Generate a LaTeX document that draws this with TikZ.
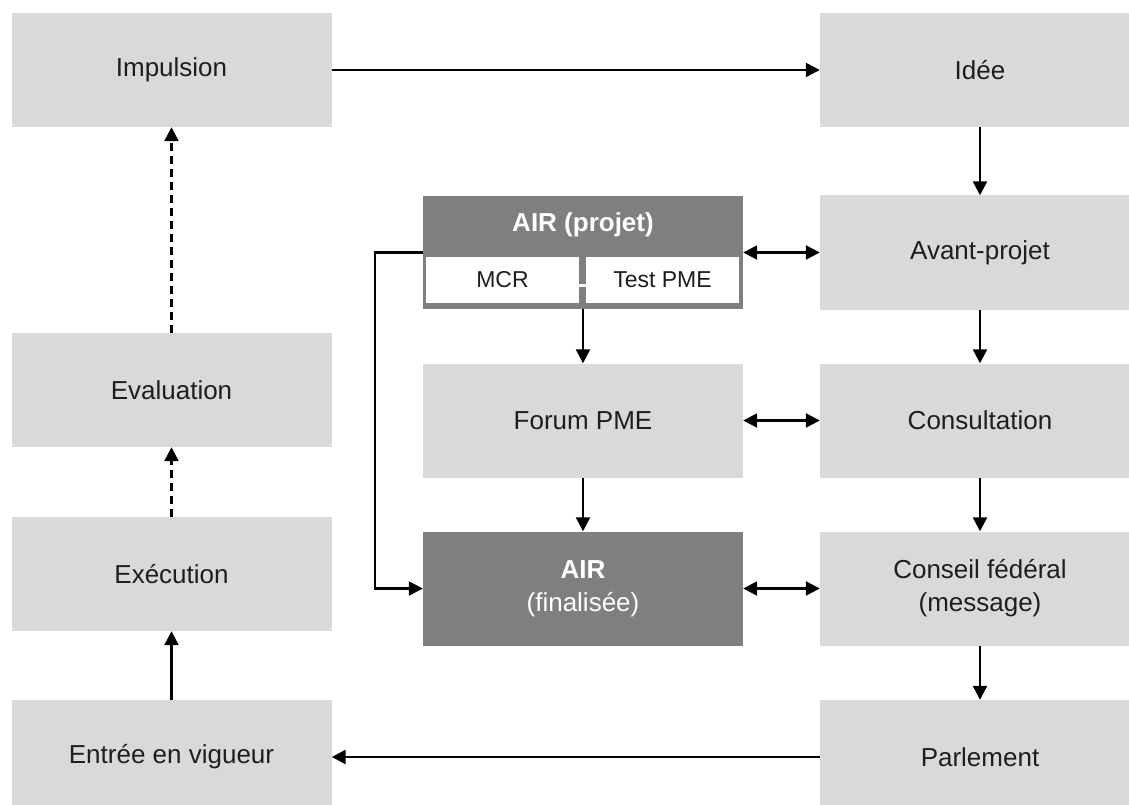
\documentclass[tikz,border=0pt]{standalone}
\usepackage{fontspec}
\setmainfont{Liberation Sans}
\usetikzlibrary{arrows.meta}
\definecolor{boxlight}{HTML}{D9D9D9}
\definecolor{boxdark}{HTML}{7F7F7F}
\definecolor{txt}{HTML}{1E1E1E}
\begin{document}
\begin{tikzpicture}[x=1pt,y=-1pt,
  box/.style={fill=boxlight, minimum width=320pt, minimum height=114pt, inner sep=0pt, text=txt, font=\fontsize{26}{33}\selectfont, align=center},
  darkbox/.style={box, fill=boxdark, text=white},
  cell/.style={fill=white, minimum width=153pt, minimum height=46pt, inner sep=0pt, text=txt, font=\fontsize{23}{28}\selectfont},
  arr/.style={line width=2.4pt, draw=black, -{Triangle[length=14pt,width=14pt]}},
  darr/.style={line width=2.4pt, draw=black, {Triangle[length=14pt,width=14pt]}-{Triangle[length=14pt,width=14pt]}},
  dsh/.style={arr, dash pattern=on 8pt off 5pt}]
\useasboundingbox (0,0) rectangle (1129,805);
\clip (0,0) rectangle (1129,805);
% boxes
\node[box] (imp) at (171.5,70) {Impulsion};
\node[box] (idee) at (980,70) {Idée};
\node[box] (avp) at (980,252.5) {Avant-projet};
\node[box] (eval) at (171.5,390) {Evaluation};
\node[box] (forum) at (583,420.5) {Forum PME};
\node[box] (cons) at (980,420.5) {Consultation};
\node[box] (exec) at (171.5,574) {Exécution};
\node[darkbox] (airf) at (583,588.5) {\textbf{AIR}\\(finalisée)};
\node[box] (cf) at (980,588.5) {Conseil fédéral\\(message)};
\node[box] (entree) at (171.5,757) {Entrée en vigueur};
\node[box] (parl) at (980,757) {Parlement};
% AIR (projet)
\node[fill=boxdark, minimum width=320pt, minimum height=113pt, inner sep=0pt] (airp) at (583,252.5) {};
\node[text=white, font=\fontsize{26}{32}\selectfont\bfseries, inner sep=0pt] (airpt) at (583,225) {AIR (projet)};
\node[cell] (mcr) at (502.5,280) {MCR};
\node[cell] (test) at (662.5,280) {Test PME};
\fill[white] (579,283.5) rectangle (586,286.5);
% connectors
\draw[arr] (imp.east) -- (idee.west);
\draw[arr] (idee.south) -- (avp.north);
\draw[arr] (avp.south) -- (cons.north);
\draw[arr] (cons.south) -- (cf.north);
\draw[arr] (cf.south) -- (parl.north);
\draw[arr] (parl.west) -- (entree.east);
\draw[arr] (entree.north) -- (exec.south);
\draw[dsh] (exec.north) -- (eval.south);
\draw[dsh] (eval.north) -- (imp.south);
\draw[darr] (airp.east) -- (avp.west);
\draw[arr] (airp.south) -- (forum.north);
\draw[darr] (forum.east) -- (cons.west);
\draw[arr] (forum.south) -- (airf.north);
\draw[darr] (airf.east) -- (cf.west);
\draw[arr] (airp.west) -- ++(-48,0) |- (airf.west);
\end{tikzpicture}
\end{document}
